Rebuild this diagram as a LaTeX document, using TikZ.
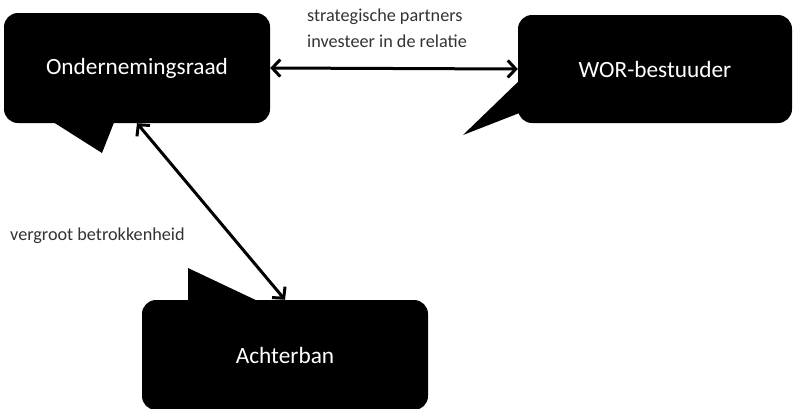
\documentclass[tikz,border=0pt]{standalone}
\usepackage{fontspec}
\setmainfont{Carlito}
\usetikzlibrary{arrows.meta}
\definecolor{labelgray}{HTML}{333333}
\tikzset{
  bubble/.style={fill=black, draw=none, rounded corners=14pt, text=white,
    font=\fontsize{23.3}{27}\selectfont, inner sep=0pt},
  tailfill/.style={fill=black, draw=none},
  link/.style={line width=3pt, {Straight Barb[length=8pt,width=17pt]}-{Straight Barb[length=8pt,width=17pt]}},
  caption/.style={text=labelgray, font=\fontsize{18.2}{21}\selectfont, inner sep=0pt, anchor=west}
}
\begin{document}
\begin{tikzpicture}[x=1pt,y=-1pt]
\useasboundingbox (0,0) rectangle (793,408);
% bubbles
\node[bubble, minimum width=266pt, minimum height=110pt] (or) at (137,68) {Ondernemingsraad};
\node[bubble, minimum width=274pt, minimum height=108pt] (wor) at (655,69) {WOR-bestuuder};
\node[bubble, minimum width=286pt, minimum height=110pt] (ab) at (285,355) {Achterban};
% tails
\fill[tailfill] (50,120) -- (102,153) -- (115,120) -- cycle;
\fill[tailfill] (522,78) -- (463,135) -- (522,112) -- cycle;
\fill[tailfill] (188,303) -- (188,268) -- (262,303) -- cycle;
% connectors
\draw[link] (or.east) -- (wor.west);
\draw[link] (or.south) -- (ab.north);
% labels
\node[caption] (t1) at (307,17) {strategische partners};
\node[caption] (t2) at (307,41) {investeer in de relatie};
\node[caption] (t3) at (10,236) {vergroot betrokkenheid};
\end{tikzpicture}
\end{document}
